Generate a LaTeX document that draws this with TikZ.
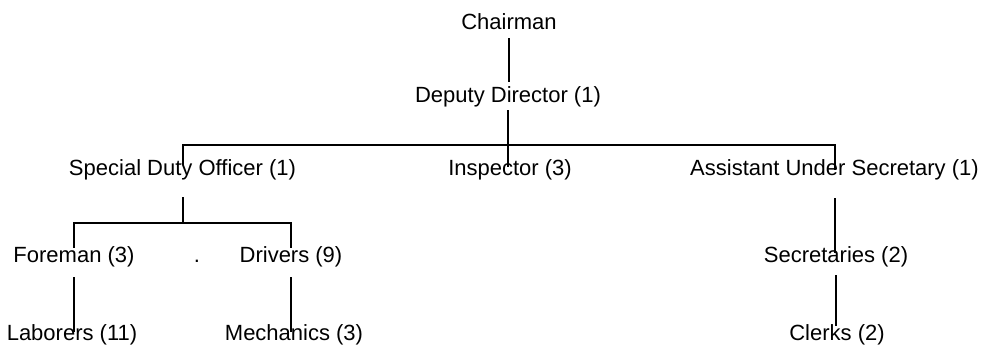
\documentclass[tikz,border=0pt]{standalone}
\usepackage{fontspec}
\setmainfont{Liberation Sans}
\newcommand{\orgpost}[3]{
	\node [post] (#1) at (#2) {#3};}

\begin{document}
\begin{tikzpicture}[x=1pt,y=-1pt,
	post/.style={inner sep=0pt,text height=16pt,text depth=5pt,font=\fontsize{22}{26}\selectfont},
	link/.style={draw,line width=2pt}]
	\useasboundingbox (0,0) rectangle (981,347);
	\orgpost{chair}{509,24.5}{Chairman}
	\orgpost{dd}{508,97.5}{Deputy Director (1)}
	\orgpost{sdo}{182.5,170.5}{Special Duty Officer (1)}
	\orgpost{insp}{510,170.5}{Inspector (3)}
	\orgpost{aus}{834.5,170.5}{Assistant Under Secretary (1)}
	\orgpost{fore}{74,256.5}{Foreman (3)}
	\orgpost{dot}{197,256.5}{.}
	\orgpost{drv}{291,256.5}{Drivers (9)}
	\orgpost{sec}{836,256.5}{Secretaries (2)}
	\orgpost{lab}{72,334.5}{Laborers (11)}
	\orgpost{mech}{294,334.5}{Mechanics (3)}
	\orgpost{clk}{837,334.5}{Clerks (2)}
	\coordinate (top) at (508,145);
	\coordinate (fork) at (182.5,223);
	\draw [link,shorten <=3pt,shorten >=5pt] (chair.south) -- (chair.south |- dd.north);
	\draw [link,shorten <=2pt,shorten >=-7pt] (dd.south) -- (dd.south |- insp.north);
	\draw [link,shorten <=-5pt,shorten >=-10pt] (sdo.north) |- (top) -| (aus.north);
	\draw [link,shorten <=16pt] (sdo.south) -- (fork);
	\draw [link,shorten <=-2pt,shorten >=-2pt] (fore.north) |- (fork) -| (drv.north);
	\draw [link,shorten <=10pt,shorten >=-8pt] (fore.south) -- (fore.south |- lab.north);
	\draw [link,shorten <=10pt,shorten >=-8pt] (drv.south) -- (drv.south |- mech.north);
	\draw [link,shorten <=17pt,shorten >=-7pt] (aus.south) -- (aus.south |- sec.north);
	\draw [link,shorten <=8pt,shorten >=-2pt] (sec.south) -- (sec.south |- clk.north);
\end{tikzpicture}
\end{document}
